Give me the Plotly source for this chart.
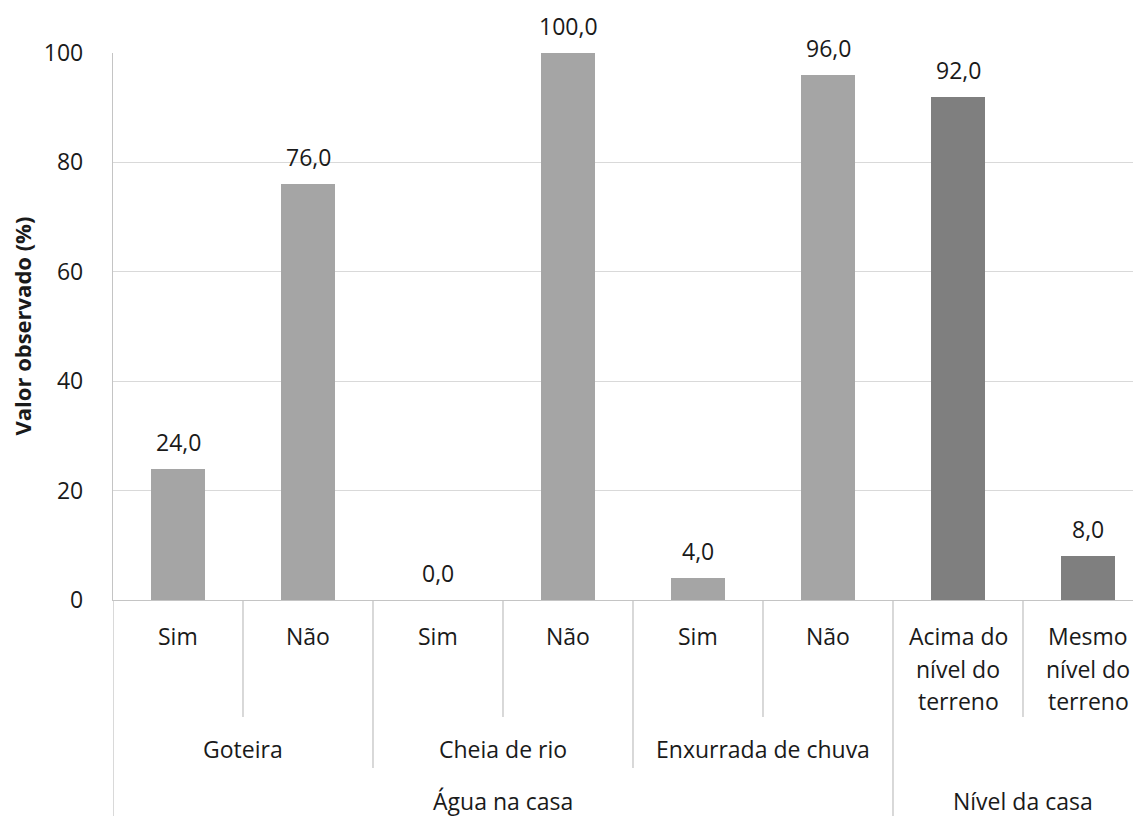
import plotly.graph_objects as go

# ---- data ----
level1 = ["Sim", "Não", "Sim", "Não", "Sim", "Não",
          "Acima do\nnível do\nterreno", "Mesmo\nnível do\nterreno"]
level2 = ["Goteira", "Cheia de rio", "Enxurrada de chuva", ""]
level2_sizes = [2, 2, 2, 2]
level3 = ["Água na casa", "Nível da casa"]
level3_sizes = [6, 2]
values = [24.0, 76.0, 0.0, 100.0, 4.0, 96.0, 92.0, 8.0]
group_of_bar = [0, 0, 0, 0, 0, 0, 1, 1]
group_colors = ["#A5A5A5", "#7F7F7F"]
y_ticks = [0, 20, 40, 60, 80, 100]
y_title = "Valor observado (%)"

# ---- layout constants (page pixels; page body has 8px margin) ----
OFF = 8
W, H = 1141 - OFF, 816 - OFF
ML, MT = 113 - OFF, 53 - OFF
PLOT_BOTTOM = 600 - OFF
CAT_W = 130.0
PLOT_H = PLOT_BOTTOM - MT
FONT = "Open Sans"
FS = 23
TXT = "#1a1a1a"
AXIS_C = "#C4C4C4"

def py(Y):
    """page pixel y -> paper y"""
    return (PLOT_BOTTOM - (Y - OFF)) / PLOT_H

x = list(range(len(values)))
colors = [group_colors[g] for g in group_of_bar]

fig = go.Figure()
fig.add_trace(go.Bar(x=x, y=values, marker=dict(color=colors, line=dict(width=0)),
                     width=0.41, hoverinfo="skip"))

ann = []
# data labels
for i, v in enumerate(values):
    ann.append(dict(x=i, y=v, xref="x", yref="y", text=f"{v:.1f}".replace(".", ","),
                    showarrow=False, yanchor="middle", yshift=27,
                    font=dict(family=FONT, size=FS, color=TXT)))

# level 1 labels (each line placed individually)
L1_Y0, L1_DY = 636, 32.5
for i, lab in enumerate(level1):
    for k, line in enumerate(lab.split("\n")):
        ann.append(dict(x=i, y=py(L1_Y0 + k * L1_DY), xref="x", yref="paper", text=line,
                        showarrow=False, yanchor="middle",
                        font=dict(family=FONT, size=FS, color=TXT)))

# level 2 labels
start = 0
for lab, n in zip(level2, level2_sizes):
    if lab:
        ann.append(dict(x=start + (n - 1) / 2, y=py(749), xref="x", yref="paper", text=lab,
                        showarrow=False, yanchor="middle",
                        font=dict(family=FONT, size=FS, color=TXT)))
    start += n

# level 3 labels
start = 0
for lab, n in zip(level3, level3_sizes):
    ann.append(dict(x=start + (n - 1) / 2, y=py(801), xref="x", yref="paper", text=lab,
                    showarrow=False, yanchor="middle",
                    font=dict(family=FONT, size=FS, color=TXT)))
    start += n

# y title
ann.append(dict(x=0, y=0.5, xref="paper", yref="paper", text=f"<b>{y_title}</b>",
                showarrow=False, textangle=-90, xanchor="center", yanchor="middle",
                xshift=21 - 113, font=dict(family=FONT, size=22, color=TXT)))

# separators for the multi-level category axis
shapes = []
bounds3 = [0]
for n in level3_sizes:
    bounds3.append(bounds3[-1] + n)
bounds2 = [0]
for n in level2_sizes:
    bounds2.append(bounds2[-1] + n)
for b in range(0, len(values) + 1):
    if b in bounds3:
        yend = py(830)
    elif b in bounds2:
        yend = py(768)
    else:
        yend = py(717)
    shapes.append(dict(type="line", xref="x", yref="paper", x0=b - 0.5, x1=b - 0.5,
                       y0=0, y1=yend, line=dict(color=AXIS_C, width=1.3)))

x_max = -0.5 + (W - ML) / CAT_W
fig.update_layout(
    width=W, height=H,
    margin=dict(l=ML, r=0, t=MT, b=H - PLOT_BOTTOM, pad=0),
    paper_bgcolor="white", plot_bgcolor="white",
    showlegend=False,
    annotations=ann, shapes=shapes,
    xaxis=dict(range=[-0.5, x_max], showticklabels=False, showgrid=False,
               zeroline=False, showline=True, linecolor=AXIS_C, linewidth=1.3,
               ticks="", fixedrange=True),
    yaxis=dict(range=[0, 100], tickvals=y_ticks, showgrid=True, gridcolor="#D9D9D9",
               gridwidth=1, zeroline=False, showline=True, linecolor=AXIS_C, linewidth=1.3,
               ticks="outside", ticklen=0, ticklabelstandoff=24,
               tickfont=dict(family=FONT, size=FS, color=TXT), fixedrange=True),
    bargap=0,
)

fig.write_html("out.html")
